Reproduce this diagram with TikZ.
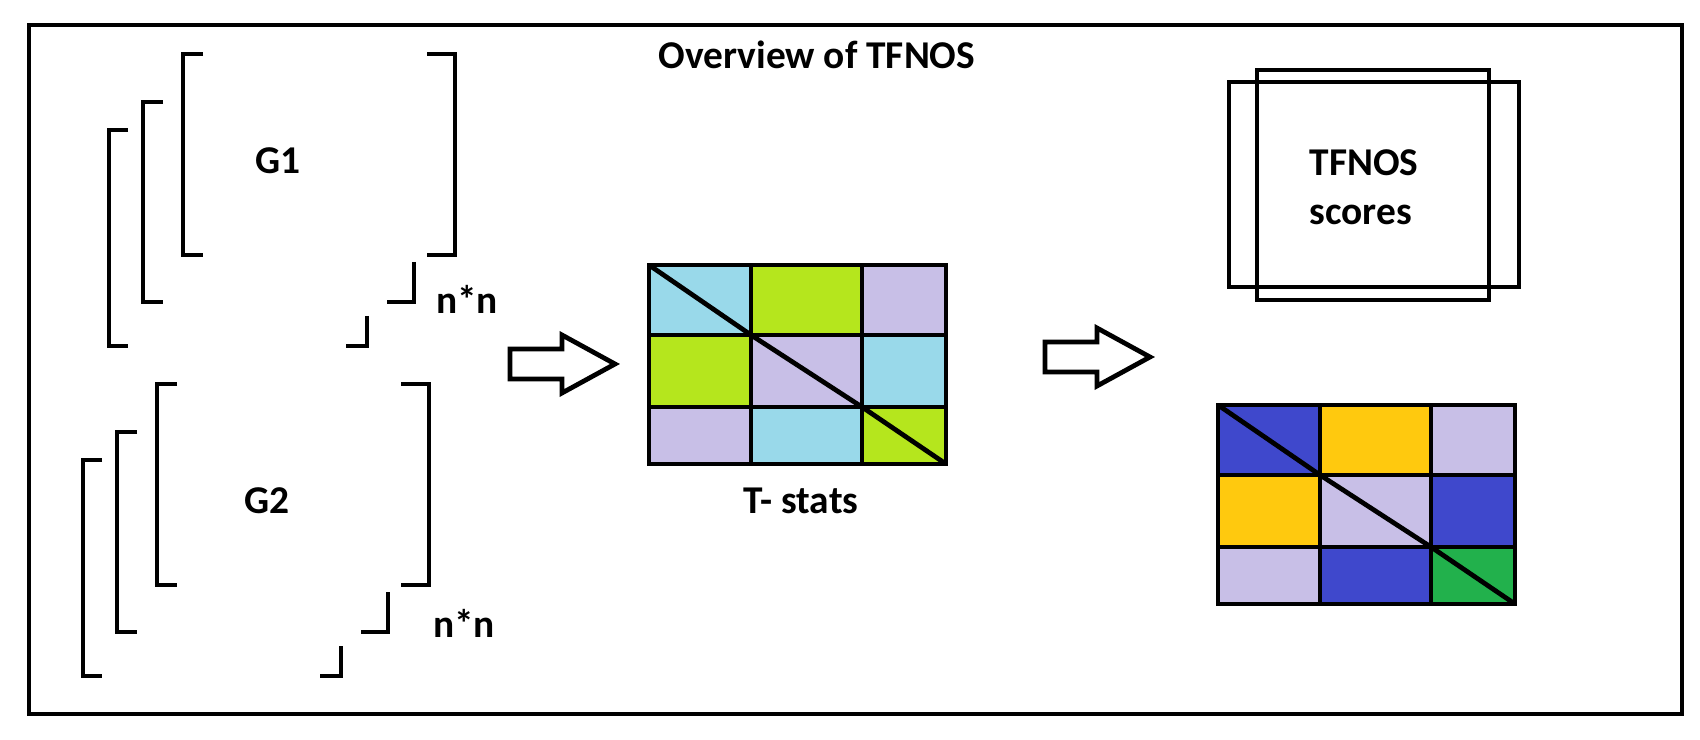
\documentclass[tikz,border=0pt]{standalone}
\usepackage{fontspec}
\setmainfont{Carlito}
\usepackage{tikz}
\definecolor{cturq}{HTML}{99D9EA}
\definecolor{clime}{HTML}{B5E61D}
\definecolor{clav}{HTML}{C8BFE7}
\definecolor{cindigo}{HTML}{3F48CC}
\definecolor{cgold}{HTML}{FFC90E}
\definecolor{cgreen}{HTML}{22B14C}

\begin{document}
\begin{tikzpicture}[x=0.01cm,y=-0.01cm,ln/.style={line width=1.35pt},lbl/.style={font=\fontsize{11.2}{14}\selectfont\bfseries,inner sep=0pt}]
\useasboundingbox (0,0) rectangle (1700,740);
\draw[ln] (29,25) rectangle (1682,714);
\node[lbl,anchor=base] (title) at (817,69) {Overview of TFNOS};
\foreach \dx/\dy in {0/0,-26/330} {
\begin{scope}[shift={(\dx,\dy)}]
\draw[ln] (203,54) -- (183,54) -- (183,255) -- (203,255);
\draw[ln] (427,54) -- (455,54) -- (455,255) -- (427,255);
\draw[ln] (163,102) -- (143,102) -- (143,302) -- (163,302);
\draw[ln] (414,262) -- (414,302) -- (387,302);
\draw[ln] (128,130) -- (109,130) -- (109,346) -- (128,346);
\draw[ln] (367,316) -- (367,346) -- (346,346);
\end{scope}}
\node[lbl,anchor=base] (gone) at (278,174) {G1};
\node[lbl,anchor=base] (gtwo) at (267,513) {G2};
\node[lbl,anchor=base] (nnone) at (467,314) {n*n};
\node[lbl,anchor=base] (nntwo) at (464,637) {n*n};
\foreach \ax/\ay in {510/364,1045/357} {\draw[ln] (\ax,\ay-15) -- ++(52,0) -- ++(0,-14) -- ++(53,29) -- ++(-53,29) -- ++(0,-14) -- ++(-52,0) -- cycle;}
\foreach \gx/\gy/\ca/\cb/\cc/\cd in {649/265/cturq/clime/clav/clime,1218/405/cindigo/cgold/clav/cgreen} {
\begin{scope}[shift={(\gx,\gy)}]
\fill[\ca] (0,0) rectangle (102,70); \fill[\cb] (102,0) rectangle (213,70); \fill[\cc] (213,0) rectangle (297,70);
\fill[\cb] (0,70) rectangle (102,142); \fill[\cc] (102,70) rectangle (213,142); \fill[\ca] (213,70) rectangle (297,142);
\fill[\cc] (0,142) rectangle (102,199); \fill[\ca] (102,142) rectangle (213,199); \fill[\cd] (213,142) rectangle (297,199);
\draw[ln] (0,0) rectangle (297,199);
\draw[ln] (102,0) -- (102,199) (213,0) -- (213,199) (0,70) -- (297,70) (0,142) -- (297,142);
\draw[ln] (0,0) -- (102,70) -- (213,142) -- (297,199);
\end{scope}}
\node[lbl,anchor=base] (tstats) at (801,513) {T- stats};
\draw[ln] (1229,82) rectangle (1519,287);
\draw[ln] (1257,70) rectangle (1489,300);
\node[lbl,anchor=north west,align=left] (scores) at (1309,149) {TFNOS\\scores};
\end{tikzpicture}
\end{document}
